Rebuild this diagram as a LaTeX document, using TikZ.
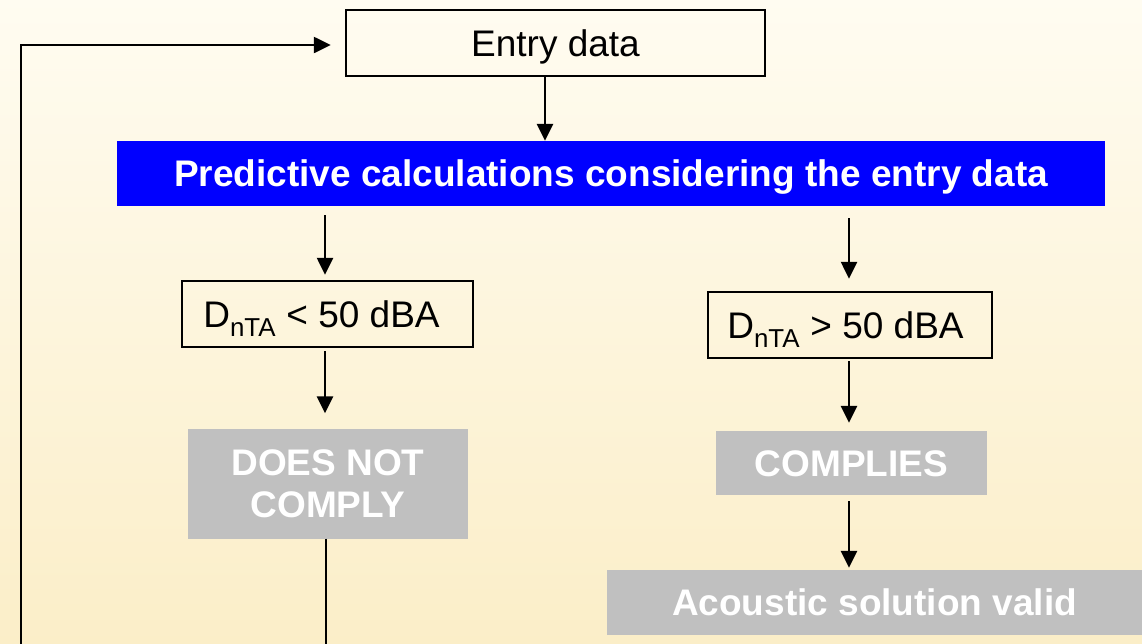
\documentclass[tikz,border=0pt]{standalone}
\usepackage{fontspec}
\setmainfont{Liberation Sans}
\usetikzlibrary{arrows.meta,calc}
\definecolor{bgtop}{RGB}{255,252,241}
\definecolor{bgbot}{RGB}{251,238,200}
\definecolor{calcblue}{RGB}{0,0,255}
\definecolor{verdict}{RGB}{192,192,192}
\tikzset{
  capcentre/.style={text height=26.5pt, text depth=0pt},
  framebox/.style={draw=black, line width=2.5pt, inner sep=0pt, capcentre,
    font=\fontsize{37}{42}\selectfont},
  bluebox/.style={fill=calcblue, inner sep=0pt, text=white, capcentre,
    font=\fontsize{37}{42}\selectfont\bfseries},
  greybox/.style={fill=verdict, inner sep=0pt, text=white, align=center,
    font=\fontsize{37}{42}\selectfont\bfseries},
  flow/.style={line width=2.6pt, -{Triangle[length=17pt,width=16pt]}},
  plain/.style={line width=2.6pt},
}
\begin{document}
\begin{tikzpicture}[x=1pt,y=-1pt]
  % page and background
  \useasboundingbox (0,0) rectangle (1142,643);
  \clip (0,0) rectangle (1142,643);
  \shade[top color=bgtop, bottom color=bgbot] (0,0) rectangle (1142,643);

  % boxes
  \node[framebox, minimum width=419pt, minimum height=66pt] (entry) at (555.5,43) {Entry data};
  \node[bluebox, minimum width=988pt, minimum height=65pt] (calc) at (611,173.5)
    {Predictive calculations considering the entry data};
  \node[framebox, minimum width=291pt, minimum height=66pt] (low) at (327.5,314)
    {D\textsubscript{nTA} < 50 dBA\hspace*{12pt}};
  \node[framebox, minimum width=284pt, minimum height=66pt] (high) at (850,325)
    {D\textsubscript{nTA} > 50 dBA\hspace*{9pt}};
  \node[greybox, minimum width=280pt, minimum height=110pt] (fail) at (328,483.5)
    {DOES NOT\\COMPLY};
  \node[greybox, capcentre, minimum width=271pt, minimum height=64pt] (pass) at (851.5,463) {COMPLIES};
  \node[greybox, capcentre, minimum width=535pt, minimum height=65pt] (valid) at (874.5,602.5)
    {Acoustic solution valid};

  % feedback path, continuing below the lower edge
  \coordinate (failend) at ($(fail.south)+(0,150)$);
  \coordinate (loopbot) at (21,700);
  \coordinate (looptop) at (21,45);

  % connectors
  \draw[flow] (entry.south -| 545,0) -- (calc.north -| 545,0);
  \draw[flow, shorten <=9pt, shorten >=5pt] (calc.south -| 325,0) -- (low.north -| 325,0);
  \draw[flow, shorten <=12pt, shorten >=12pt] (calc.south -| 849,0) -- (high.north -| 849,0);
  \draw[flow, shorten <=3pt, shorten >=15pt] (low.south -| 325,0) -- (fail.north -| 325,0);
  \draw[flow, shorten <=2pt, shorten >=8pt] (high.south -| 849,0) -- (pass.north -| 849,0);
  \draw[flow, shorten <=6pt, shorten >=2pt] (pass.south -| 849,0) -- (valid.north -| 849,0);
  \draw[plain] (fail.south -| 326,0) -- (failend -| 326,0);
  \draw[flow, shorten >=14pt] (loopbot) -- (looptop) -- (entry.west |- looptop);
\end{tikzpicture}
\end{document}
